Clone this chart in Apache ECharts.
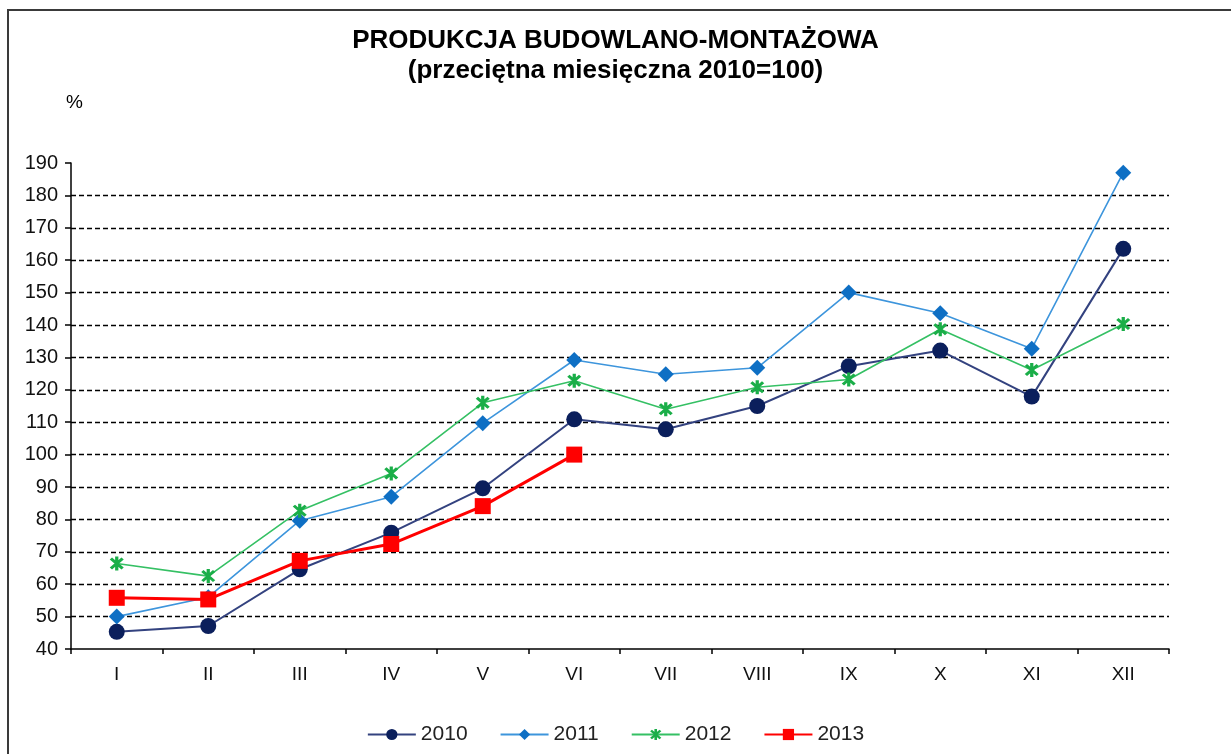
<!DOCTYPE html>
<html>
<head>
<meta charset="utf-8">
<script src="https://cdn.jsdelivr.net/npm/echarts@6/dist/echarts.min.js"></script>
<style>
html, body { margin: 0; padding: 0; background: #fff; }
#main { width: 1231px; height: 754px; }
</style>
</head>
<body>
<div id="main"></div>
<script>
// miesiące
const months = ['I', 'II', 'III', 'IV', 'V', 'VI', 'VII', 'VIII', 'IX', 'X', 'XI', 'XII']
// przeciętna miesięczna 2010=100
const y2010 = [45.3, 47.1, 64.6, 75.9, 89.6, 110.9, 107.8, 115, 127.3, 132.1, 117.9, 163.5]
const y2011 = [50, 56, 79.6, 87, 109.7, 129.2, 124.8, 126.8, 150, 143.6, 132.7, 187]
const y2012 = [66.4, 62.5, 82.7, 94.2, 116, 122.8, 114, 120.8, 123.2, 138.7, 126.1, 140.3]
const y2013 = [55.8, 55.3, 67.2, 72.4, 84.1, 100]

const FONT = '"Liberation Sans", Arial, sans-serif'
// gwiazdka dla 2012
const asterisk = 'path://M4 0L6 0L6 10L4 10Z M0.7 2.1L2.1 0.7L9.3 7.9L7.9 9.3Z M7.9 0.7L9.3 2.1L2.1 9.3L0.7 7.9Z'
const tickStyle = { color: '#000', width: 1.5 }

const myChart = echarts.init(document.getElementById('main'))

const option = {
    backgroundColor: '#fff',
    animation: false,
    textStyle: { fontFamily: FONT },
    title: {
        text: 'PRODUKCJA BUDOWLANO-MONTAŻOWA',
        subtext: '(przeciętna miesięczna 2010=100)',
        left: 'center',
        top: 23,
        itemGap: 4,
        textStyle: { fontFamily: FONT, fontSize: 26, fontWeight: 'bold', color: '#000' },
        subtextStyle: { fontFamily: FONT, fontSize: 26, fontWeight: 'bold', color: '#000' }
    },
    graphic: [
        {
            type: 'rect',
            shape: { x: 8, y: 10, width: 1400, height: 900 },
            style: { fill: 'none', stroke: '#3a3a3a', lineWidth: 2 },
            silent: true
        },
        {
            type: 'text',
            left: 66,
            top: 93,
            style: { text: '%', fontFamily: FONT, fontSize: 19, fill: '#000' }
        }
    ],
    legend: {
        bottom: 4,
        left: 'center',
        itemWidth: 48,
        itemHeight: 14,
        itemGap: 32,
        textStyle: { fontFamily: FONT, fontSize: 21, color: '#222' },
        data: ['2010', '2011', '2012', '2013']
    },
    grid: { left: 71, right: 62, top: 163, bottom: 105 },
    xAxis: {
        type: 'category',
        data: months,
        boundaryGap: true,
        axisLine: { lineStyle: tickStyle },
        axisTick: { show: true, length: 5, lineStyle: tickStyle },
        axisLabel: { fontFamily: FONT, fontSize: 19, color: '#111', margin: 16, interval: 0 }
    },
    yAxis: {
        type: 'value',
        min: 40,
        max: 190,
        interval: 10,
        axisLine: { show: true, onZero: false, lineStyle: tickStyle },
        axisTick: { show: true, length: 6, lineStyle: tickStyle },
        axisLabel: { fontFamily: FONT, fontSize: 20, color: '#111', margin: 13 },
        splitLine: {
            show: true,
            showMinLine: false,
            showMaxLine: false,
            lineStyle: { color: '#000', type: [5, 3], width: 1.3 }
        }
    },
    series: [
        {
            name: '2010',
            type: 'line',
            data: y2010,
            symbol: 'circle',
            symbolSize: 16,
            lineStyle: { color: '#33427f', width: 2 },
            itemStyle: { color: '#0b1f5c' }
        },
        {
            name: '2011',
            type: 'line',
            data: y2011,
            symbol: 'diamond',
            symbolSize: 16,
            lineStyle: { color: '#3d95dc', width: 1.6 },
            itemStyle: { color: '#0e6fc4' }
        },
        {
            name: '2012',
            type: 'line',
            data: y2012,
            symbol: asterisk,
            symbolSize: 14,
            lineStyle: { color: '#35c064', width: 1.6 },
            itemStyle: { color: '#1aae48' }
        },
        {
            name: '2013',
            type: 'line',
            data: y2013,
            symbol: 'rect',
            symbolSize: 16,
            lineStyle: { color: '#ff0000', width: 3 },
            itemStyle: { color: '#ff0000' }
        }
    ]
}

myChart.setOption(option)
</script>
</body>
</html>
